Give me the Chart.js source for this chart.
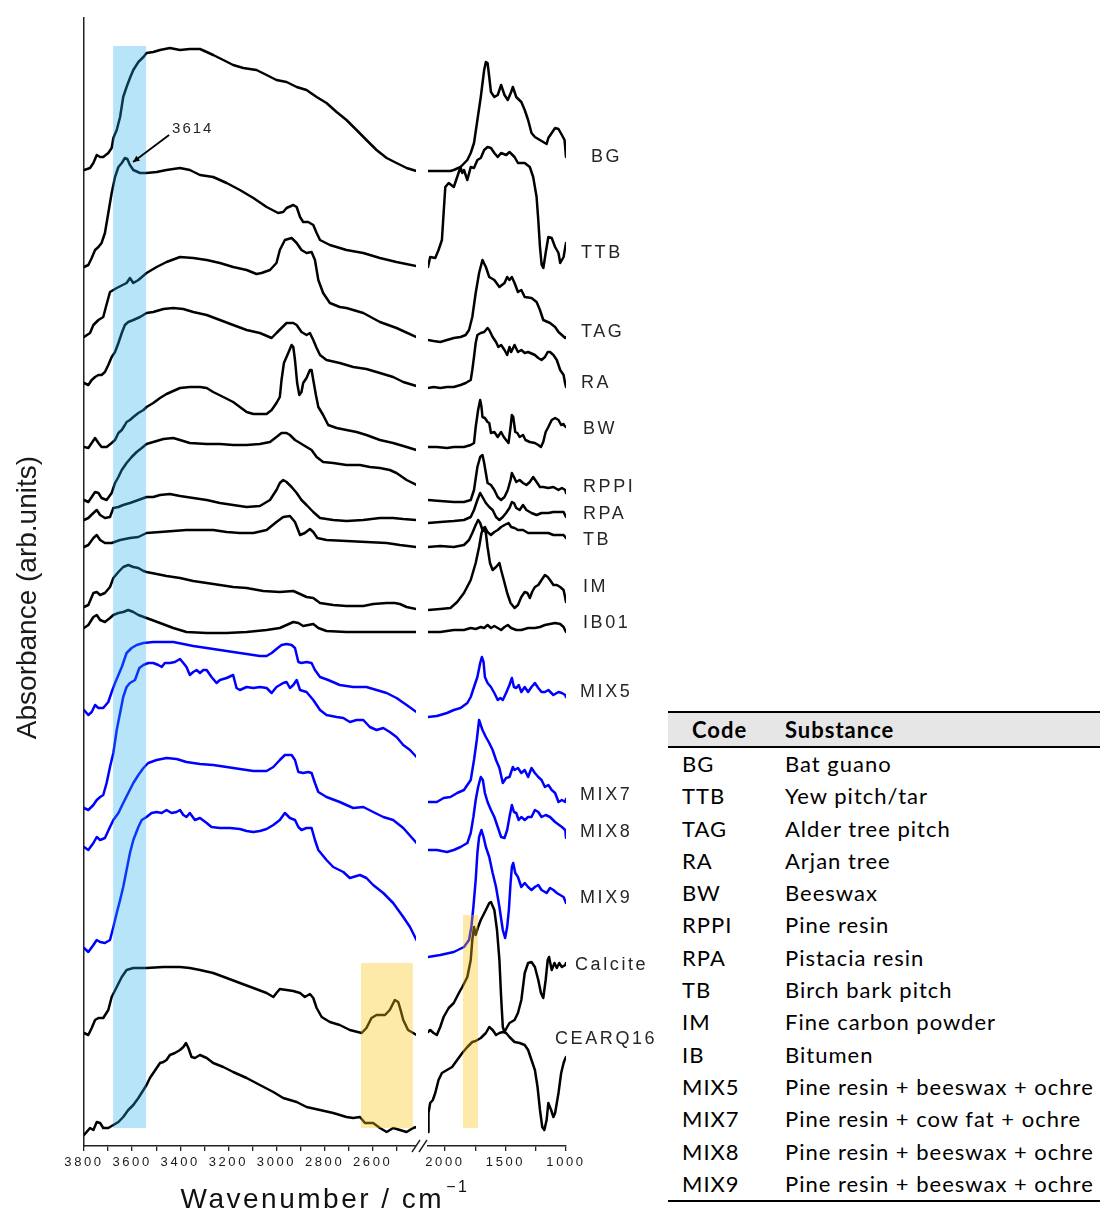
<!DOCTYPE html>
<html>
<head>
<meta charset="utf-8">
<title>FTIR spectra of reference substances and mixtures</title>
<script src="https://cdn.jsdelivr.net/npm/chart.js@4.4.1/dist/chart.umd.min.js"></script>
<style>
  html, body { margin: 0; padding: 0; background: #fff; }
  body { width: 1100px; height: 1211px; position: relative; overflow: hidden; }
  #plot { position: absolute; left: 0; top: 0; }
  table.key {
    position: absolute; left: 668px; top: 711px; width: 432px;
    border-collapse: separate; border-spacing: 0; table-layout: fixed;
    font-family: Lato, "Open Sans", sans-serif; font-size: 22px; color: #000;
    letter-spacing: 1px;
    border-top: 2px solid #000; border-bottom: 2px solid #000;
  }
  table.key th {
    background: #e6e6e6; height: 33px; padding: 0; text-align: left;
    font-weight: 700; border-bottom: 2px solid #000; line-height: 33px;
  }
  table.key th.c { padding-left: 24px; }
  table.key td { height: 32.3px; line-height: 32.3px; padding: 0; white-space: nowrap; }
  table.key td.c { padding-left: 14px; }
</style>
</head>
<body>
<canvas id="plot" width="660" height="1211"></canvas>
<table class="key">
  <colgroup><col style="width:117px"><col style="width:315px"></colgroup>
  <thead><tr><th class="c">Code</th><th>Substance</th></tr></thead>
  <tbody id="keyBody"></tbody>
</table>
<script>
// ---- spectra: [wavenumber (cm-1), absorbance (arb. units, offset-stacked)] ----
// high-wavenumber window (3800-2420 cm-1) and fingerprint window (2140-1000 cm-1)
const BG_L = [[3800,976],[3775,978],[3761,983],[3747,991],[3733,989],[3720,989],[3699,993],[3685,998],[3678,1008],[3664,1016],[3650,1029],[3637,1049],[3623,1059],[3609,1068],[3595,1076],[3574,1084],[3553,1089],[3540,1093],[3512,1094],[3484,1096],[3443,1098],[3401,1096],[3360,1097],[3318,1097],[3290,1094],[3263,1091],[3221,1086],[3180,1081],[3138,1078],[3083,1076],[3041,1071],[3000,1066],[2958,1064],[2916,1059],[2875,1056],[2833,1049],[2792,1043],[2750,1034],[2709,1026],[2667,1016],[2626,1006],[2584,996],[2542,988],[2501,983],[2459,978],[2418,975]];
const BG_R = [[2140,975],[2039,975],[1955,975],[1927,976],[1871,979],[1815,986],[1787,993],[1760,1003],[1732,1026],[1704,1049],[1676,1076],[1662,1084],[1648,1083],[1634,1069],[1620,1054],[1592,1049],[1564,1051],[1536,1061],[1508,1051],[1481,1046],[1453,1054],[1439,1059],[1411,1049],[1369,1044],[1341,1036],[1313,1026],[1285,1013],[1257,1009],[1202,1005],[1160,1002],[1146,1008],[1118,1013],[1090,1018],[1062,1017],[1034,1011],[1012,1006],[1000,989]];

const TTB_L = [[3800,879],[3782,881],[3768,888],[3754,896],[3740,899],[3727,903],[3713,913],[3699,933],[3685,953],[3671,969],[3657,979],[3643,983],[3630,988],[3620,987],[3609,981],[3595,976],[3567,973],[3540,973],[3498,974],[3457,976],[3401,978],[3360,976],[3318,971],[3263,969],[3207,963],[3152,956],[3096,948],[3041,939],[2993,933],[2972,934],[2958,938],[2930,941],[2916,939],[2902,929],[2889,924],[2868,924],[2847,921],[2833,913],[2819,906],[2778,901],[2709,896],[2639,893],[2570,888],[2501,884],[2418,880]];
const TTB_R = [[2140,879],[2122,889],[2080,888],[2053,896],[2025,906],[2011,933],[1997,959],[1969,963],[1927,959],[1899,969],[1871,979],[1857,973],[1843,976],[1815,966],[1787,979],[1760,978],[1732,986],[1704,988],[1676,996],[1648,999],[1620,998],[1592,993],[1564,989],[1536,993],[1494,991],[1467,994],[1425,989],[1397,983],[1341,983],[1299,979],[1271,969],[1243,949],[1229,926],[1215,899],[1201,881],[1187,878],[1168,893],[1146,909],[1118,908],[1090,899],[1062,893],[1048,883],[1020,889],[1000,903]];

const TAG_L = [[3800,809],[3775,813],[3761,821],[3740,826],[3720,829],[3709,839],[3692,854],[3664,858],[3623,863],[3609,868],[3595,863],[3574,866],[3540,873],[3498,879],[3457,884],[3401,889],[3346,888],[3290,886],[3235,883],[3180,879],[3124,876],[3083,872],[3062,873],[3027,876],[3000,883],[2986,896],[2965,906],[2937,908],[2916,903],[2896,896],[2875,893],[2854,894],[2840,886],[2826,866],[2806,853],[2778,843],[2737,839],[2709,838],[2639,833],[2570,824],[2501,818],[2418,809]];
const TAG_R = [[2140,806],[2094,805],[2039,804],[1983,806],[1927,808],[1871,809],[1829,811],[1801,816],[1774,829],[1746,853],[1718,873],[1690,886],[1662,879],[1634,869],[1592,866],[1550,859],[1508,863],[1486,869],[1467,866],[1447,869],[1425,863],[1397,854],[1369,856],[1341,849],[1285,848],[1243,844],[1215,836],[1188,826],[1132,823],[1090,819],[1062,814],[1034,811],[1006,808],[1000,809]];

const RA_L = [[3800,763],[3782,761],[3768,766],[3754,769],[3740,771],[3727,771],[3713,774],[3699,781],[3685,789],[3671,794],[3657,803],[3643,813],[3630,821],[3616,824],[3595,826],[3567,829],[3540,833],[3512,834],[3470,837],[3429,838],[3387,837],[3346,834],[3290,831],[3235,826],[3180,821],[3124,816],[3069,813],[3020,808],[3000,813],[2979,818],[2958,823],[2930,823],[2916,821],[2896,814],[2875,811],[2861,813],[2847,806],[2833,798],[2819,791],[2792,786],[2737,783],[2681,779],[2626,777],[2570,773],[2515,769],[2473,764],[2418,760]];
const RA_R = [[2140,758],[2094,759],[2039,758],[1983,759],[1927,759],[1871,761],[1829,763],[1787,766],[1774,776],[1760,789],[1746,803],[1732,811],[1704,813],[1676,814],[1648,818],[1634,816],[1606,809],[1578,804],[1559,799],[1536,801],[1508,796],[1486,791],[1467,799],[1453,794],[1425,801],[1397,794],[1369,796],[1341,793],[1313,794],[1257,791],[1229,788],[1202,786],[1174,789],[1151,794],[1132,794],[1104,791],[1076,786],[1048,776],[1020,771],[1008,763],[1000,759]];

const BW_L = [[3800,699],[3782,698],[3768,703],[3754,708],[3740,703],[3727,699],[3706,699],[3685,703],[3671,706],[3657,713],[3643,716],[3630,721],[3623,724],[3609,726],[3595,729],[3574,733],[3553,736],[3540,739],[3512,743],[3484,748],[3457,752],[3429,755],[3401,758],[3360,759],[3318,759],[3290,758],[3263,754],[3221,749],[3180,744],[3152,739],[3124,734],[3096,732],[3041,732],[3020,736],[3000,743],[2986,749],[2979,766],[2969,783],[2951,793],[2937,801],[2930,799],[2923,786],[2914,763],[2905,751],[2896,754],[2889,763],[2875,768],[2861,776],[2854,776],[2847,766],[2836,751],[2826,739],[2806,731],[2785,721],[2750,718],[2709,716],[2667,714],[2626,711],[2570,706],[2515,703],[2459,699],[2418,696]];
const BW_R = [[2140,699],[2067,699],[1983,698],[1927,699],[1843,699],[1787,701],[1760,703],[1746,719],[1726,736],[1709,746],[1698,739],[1690,729],[1670,728],[1648,724],[1634,723],[1620,713],[1592,714],[1564,709],[1536,714],[1514,709],[1495,706],[1475,703],[1458,719],[1447,731],[1436,729],[1419,714],[1402,713],[1383,709],[1355,711],[1335,706],[1299,704],[1257,703],[1229,701],[1207,699],[1188,704],[1168,714],[1146,719],[1118,726],[1090,728],[1062,726],[1040,721],[1020,722],[1011,720],[1000,719]];

const RPPI_L = [[3800,646],[3782,644],[3768,649],[3754,654],[3740,653],[3727,648],[3706,646],[3685,653],[3671,663],[3657,669],[3643,676],[3623,683],[3602,689],[3581,694],[3560,698],[3540,702],[3512,704],[3470,707],[3429,708],[3401,706],[3360,703],[3290,702],[3235,702],[3180,701],[3124,701],[3069,702],[3027,704],[3000,709],[2979,713],[2958,713],[2944,711],[2923,706],[2902,703],[2875,699],[2854,696],[2833,689],[2806,684],[2764,683],[2709,681],[2653,681],[2612,679],[2570,678],[2529,676],[2501,673],[2459,666],[2418,661]];
const RPPI_R = [[2140,646],[2039,645],[1927,644],[1843,644],[1787,646],[1760,656],[1732,679],[1709,689],[1690,691],[1676,683],[1662,673],[1648,663],[1620,661],[1592,656],[1564,649],[1536,646],[1508,649],[1481,656],[1458,666],[1447,673],[1430,669],[1411,664],[1383,666],[1355,663],[1327,661],[1299,664],[1271,669],[1243,664],[1215,659],[1188,659],[1146,658],[1104,659],[1062,656],[1034,658],[1006,656],[1000,653]];

const RPA_L = [[3800,626],[3782,628],[3761,633],[3747,636],[3733,631],[3713,628],[3692,629],[3678,638],[3657,639],[3637,641],[3609,643],[3574,646],[3540,649],[3512,649],[3484,651],[3443,652],[3401,650],[3346,648],[3290,646],[3235,643],[3180,641],[3124,639],[3069,640],[3027,646],[3000,656],[2986,663],[2972,666],[2958,664],[2937,659],[2916,653],[2896,646],[2875,641],[2847,634],[2819,628],[2764,626],[2709,625],[2639,626],[2570,628],[2515,628],[2473,627],[2418,626]];
const RPA_R = [[2140,623],[2039,624],[1927,625],[1843,626],[1787,629],[1760,636],[1732,646],[1709,653],[1690,649],[1662,643],[1634,639],[1606,636],[1578,629],[1550,626],[1522,629],[1495,633],[1467,638],[1447,644],[1430,643],[1411,638],[1383,636],[1355,641],[1327,636],[1285,633],[1243,631],[1202,633],[1146,633],[1104,634],[1062,634],[1020,634],[1000,629]];

const TB_L = [[3800,599],[3782,601],[3761,608],[3747,611],[3733,606],[3713,603],[3685,603],[3650,606],[3609,608],[3574,609],[3540,613],[3484,614],[3429,615],[3374,616],[3318,616],[3263,616],[3207,614],[3152,613],[3096,613],[3041,616],[3000,624],[2972,629],[2944,630],[2923,624],[2902,611],[2882,613],[2861,617],[2847,614],[2830,608],[2792,606],[2709,605],[2626,604],[2542,603],[2487,601],[2418,599]];
const TB_R = [[2140,599],[2039,600],[1927,599],[1843,601],[1801,606],[1774,613],[1746,621],[1726,626],[1709,623],[1690,616],[1670,619],[1648,614],[1620,611],[1592,614],[1564,616],[1536,619],[1508,621],[1475,623],[1453,619],[1425,618],[1397,616],[1355,616],[1313,613],[1257,613],[1202,613],[1146,613],[1104,611],[1062,611],[1020,611],[1000,608]];

const IM_L = [[3800,539],[3782,541],[3761,553],[3747,554],[3733,551],[3713,553],[3692,559],[3678,568],[3657,574],[3637,579],[3616,581],[3595,579],[3574,578],[3553,575],[3540,574],[3498,572],[3457,570],[3401,568],[3346,565],[3290,563],[3235,561],[3180,559],[3124,558],[3055,555],[2986,554],[2930,555],[2902,552],[2875,549],[2847,548],[2819,543],[2764,541],[2709,540],[2639,540],[2598,542],[2542,543],[2508,543],[2487,542],[2459,539],[2418,537]];
const IM_R = [[2140,536],[2039,537],[1955,538],[1899,544],[1843,553],[1787,566],[1746,583],[1718,599],[1698,613],[1681,618],[1662,613],[1648,599],[1628,583],[1606,576],[1578,579],[1550,583],[1536,576],[1514,566],[1486,553],[1458,543],[1425,538],[1397,541],[1369,549],[1341,554],[1319,553],[1299,548],[1280,554],[1257,559],[1229,561],[1202,566],[1174,571],[1151,569],[1132,566],[1104,561],[1076,561],[1048,559],[1020,556],[1011,551],[1000,544]];

const IB_L = [[3800,518],[3782,521],[3761,529],[3747,531],[3733,526],[3713,524],[3692,528],[3678,531],[3657,533],[3637,534],[3616,536],[3595,534],[3574,531],[3540,528],[3484,523],[3429,518],[3374,514],[3290,513],[3207,513],[3124,514],[3041,516],[2986,518],[2958,521],[2930,524],[2909,523],[2889,520],[2868,521],[2847,522],[2826,518],[2792,515],[2709,514],[2570,514],[2418,514]];
const IB_R = [[2140,514],[2039,514],[1927,516],[1843,516],[1787,518],[1746,517],[1704,519],[1676,518],[1648,521],[1620,518],[1592,520],[1564,518],[1536,516],[1508,519],[1481,521],[1453,518],[1411,516],[1369,516],[1313,518],[1257,518],[1215,519],[1174,521],[1132,522],[1090,523],[1048,522],[1020,519],[1000,514]];

const MIX5_L = [[3800,436],[3782,431],[3768,434],[3754,441],[3740,438],[3720,438],[3699,444],[3685,454],[3671,463],[3657,471],[3643,479],[3623,493],[3602,498],[3581,501],[3553,503],[3512,504],[3470,504],[3429,504],[3387,502],[3346,500],[3290,498],[3235,496],[3180,494],[3124,492],[3069,490],[3041,490],[3020,493],[3000,497],[2979,501],[2958,502],[2937,501],[2923,498],[2909,484],[2896,483],[2875,484],[2854,483],[2840,476],[2819,469],[2785,466],[2737,461],[2681,459],[2626,459],[2584,456],[2542,453],[2501,448],[2459,441],[2418,434]];
const MIX5_R = [[2140,429],[2067,430],[1983,433],[1927,436],[1871,438],[1815,443],[1787,449],[1760,459],[1732,469],[1709,483],[1695,489],[1681,484],[1670,469],[1648,463],[1620,459],[1592,453],[1564,446],[1542,448],[1522,446],[1495,453],[1467,461],[1447,468],[1430,459],[1411,458],[1391,461],[1369,454],[1341,459],[1313,454],[1285,459],[1257,463],[1229,458],[1202,454],[1174,454],[1146,456],[1104,451],[1062,454],[1034,453],[1006,451],[1000,449]];

const MIX7_L = [[3800,338],[3782,336],[3761,341],[3747,346],[3733,349],[3720,351],[3706,363],[3692,379],[3678,393],[3664,416],[3650,433],[3637,449],[3623,459],[3609,463],[3588,466],[3570,478],[3553,481],[3533,483],[3512,483],[3491,481],[3477,479],[3464,483],[3443,483],[3422,484],[3401,487],[3387,483],[3374,479],[3360,471],[3346,474],[3332,476],[3318,473],[3304,476],[3290,476],[3270,469],[3249,463],[3235,466],[3207,468],[3180,471],[3166,458],[3152,456],[3124,459],[3096,458],[3069,459],[3041,458],[3020,453],[3000,459],[2972,463],[2958,464],[2944,458],[2930,461],[2916,466],[2902,456],[2875,454],[2847,446],[2819,436],[2792,431],[2750,429],[2722,428],[2695,424],[2667,426],[2639,426],[2612,419],[2584,416],[2556,418],[2529,414],[2501,409],[2473,401],[2445,396],[2418,389]];
const MIX7_R = [[2140,344],[2067,344],[2011,348],[1955,349],[1899,353],[1843,356],[1787,366],[1760,386],[1737,406],[1718,426],[1704,421],[1690,416],[1662,409],[1634,403],[1606,396],[1578,386],[1550,378],[1522,363],[1495,368],[1467,369],[1439,379],[1425,376],[1397,378],[1369,373],[1341,376],[1313,369],[1285,378],[1257,373],[1229,369],[1202,366],[1174,359],[1146,361],[1118,356],[1090,353],[1062,344],[1034,346],[1006,344],[1000,347]];

const MIX8_L = [[3800,299],[3782,296],[3761,303],[3747,309],[3733,306],[3713,308],[3692,319],[3678,326],[3657,333],[3637,343],[3616,353],[3595,363],[3574,371],[3553,378],[3533,383],[3498,386],[3457,388],[3415,387],[3374,384],[3318,382],[3263,381],[3207,379],[3152,377],[3096,375],[3041,375],[3013,379],[2986,386],[2965,391],[2937,391],[2923,386],[2909,374],[2889,373],[2868,374],[2854,373],[2840,363],[2826,354],[2792,349],[2737,344],[2681,338],[2639,339],[2598,334],[2556,329],[2515,326],[2473,318],[2418,303]];
const MIX8_R = [[2140,296],[2067,296],[1983,294],[1927,296],[1871,299],[1815,303],[1787,313],[1765,329],[1746,346],[1726,359],[1704,369],[1687,366],[1670,353],[1648,344],[1620,336],[1592,329],[1564,319],[1536,309],[1508,308],[1486,316],[1467,329],[1447,341],[1430,334],[1411,333],[1391,326],[1369,329],[1341,326],[1313,329],[1285,329],[1257,336],[1229,334],[1202,329],[1168,331],[1132,329],[1090,324],[1034,319],[1006,316],[1000,308]];

const MIX9_L = [[3800,198],[3782,194],[3761,201],[3747,206],[3733,204],[3713,203],[3692,206],[3678,219],[3664,233],[3650,246],[3637,259],[3623,276],[3609,293],[3595,306],[3574,319],[3560,326],[3540,329],[3519,333],[3498,334],[3477,333],[3457,336],[3436,333],[3415,334],[3401,336],[3387,331],[3374,329],[3360,333],[3339,326],[3318,328],[3290,323],[3270,319],[3235,318],[3193,318],[3152,317],[3124,315],[3096,314],[3069,315],[3041,317],[3013,321],[2986,326],[2965,333],[2944,328],[2923,326],[2909,319],[2896,316],[2875,318],[2854,318],[2840,306],[2826,296],[2792,286],[2764,279],[2722,274],[2695,268],[2653,271],[2626,268],[2598,261],[2556,253],[2515,243],[2473,229],[2445,219],[2418,206]];
const MIX9_R = [[2140,189],[2039,191],[1927,194],[1843,199],[1801,206],[1782,219],[1765,239],[1746,266],[1732,293],[1718,309],[1698,316],[1681,309],[1662,299],[1634,289],[1606,273],[1578,259],[1550,239],[1522,216],[1503,208],[1486,219],[1472,236],[1458,263],[1447,279],[1436,283],[1419,273],[1397,269],[1369,259],[1341,263],[1313,259],[1285,256],[1257,259],[1229,261],[1202,256],[1160,253],[1132,258],[1104,256],[1076,253],[1048,251],[1020,249],[1000,243]];

const CAL_L = [[3800,113],[3782,111],[3768,118],[3754,126],[3740,128],[3720,128],[3699,136],[3685,149],[3664,159],[3643,169],[3623,176],[3595,178],[3540,178],[3470,179],[3401,179],[3360,178],[3318,176],[3263,173],[3207,168],[3152,163],[3096,158],[3041,153],[3013,149],[3000,153],[2986,157],[2958,156],[2930,155],[2902,153],[2882,149],[2861,152],[2847,148],[2833,138],[2812,129],[2778,124],[2737,121],[2695,116],[2646,113],[2626,118],[2605,128],[2584,131],[2549,131],[2529,136],[2508,146],[2494,144],[2484,136],[2473,126],[2453,116],[2418,111]];
const CAL_R = [[2140,114],[2122,116],[2094,113],[2067,111],[2039,119],[2011,129],[1969,138],[1927,143],[1885,153],[1857,159],[1815,169],[1787,186],[1774,206],[1760,219],[1746,211],[1726,219],[1704,226],[1662,236],[1634,243],[1620,244],[1592,236],[1570,216],[1550,186],[1536,149],[1522,119],[1508,114],[1486,119],[1467,123],[1425,126],[1397,133],[1369,146],[1341,173],[1313,183],[1285,184],[1257,179],[1229,166],[1207,153],[1188,148],[1168,166],[1151,186],[1140,189],[1118,176],[1095,183],[1076,178],[1056,183],[1034,179],[1006,181],[1000,183]];

const CEA_L = [[3800,11],[3789,14],[3775,18],[3761,16],[3747,24],[3733,23],[3720,18],[3699,18],[3678,21],[3657,24],[3637,29],[3616,36],[3595,41],[3574,48],[3553,56],[3540,61],[3526,68],[3512,73],[3498,78],[3484,83],[3470,84],[3457,86],[3443,91],[3422,93],[3401,96],[3387,99],[3376,103],[3366,98],[3353,89],[3339,88],[3318,91],[3290,88],[3263,83],[3221,79],[3180,74],[3124,68],[3069,61],[3013,54],[2972,48],[2916,44],[2875,39],[2819,36],[2764,33],[2709,29],[2681,28],[2653,29],[2632,23],[2598,23],[2570,18],[2542,14],[2515,18],[2487,16],[2459,14],[2432,18],[2418,19]];
const CEA_R = [[2140,14],[2136,33],[2122,43],[2100,46],[2080,53],[2053,66],[2025,73],[1983,76],[1941,79],[1899,86],[1857,93],[1815,99],[1774,104],[1746,105],[1704,108],[1662,113],[1634,119],[1606,116],[1578,111],[1550,113],[1522,114],[1495,113],[1467,109],[1425,104],[1383,103],[1341,101],[1313,96],[1285,86],[1257,76],[1235,59],[1215,36],[1196,19],[1179,16],[1160,26],[1146,43],[1123,36],[1104,29],[1090,33],[1062,53],[1040,73],[1020,83],[1011,86],[1000,89]];

// curve names, top to bottom
const seriesCodes = ['BG','TTB','TAG','RA','BW','RPPI','RPA','TB','IM','IB01','MIX5','MIX7','MIX8','MIX9','Calcite','CEARQ16'];
const seriesLeft  = [BG_L, TTB_L, TAG_L, RA_L, BW_L, RPPI_L, RPA_L, TB_L, IM_L, IB_L, MIX5_L, MIX7_L, MIX8_L, MIX9_L, CAL_L, CEA_L];
const seriesRight = [BG_R, TTB_R, TAG_R, RA_R, BW_R, RPPI_R, RPA_R, TB_R, IM_R, IB_R, MIX5_R, MIX7_R, MIX8_R, MIX9_R, CAL_R, CEA_R];

// axis ticks (cm-1)
const leftTicks  = [3800,3700,3600,3500,3400,3300,3200,3100,3000,2900,2800,2700,2600,2500];
const leftTickLabels  = ['3800','','3600','','3400','','3200','','3000','','2800','','2600',''];
const rightTicks = [2000,1750,1500,1250,1000];
const rightTickLabels = ['2000','','1500','','1000'];

// shaded diagnostic regions: [axis, from cm-1, to cm-1, absorbance top, absorbance bottom]
const bandRanges = [
  ['xL', 3679, 3542, 1100, 18],
  ['xL', 2649, 2433, 183, 18],
  ['xR', 1851, 1727, 231, 18]
];
// annotated band position
const markedPeak = { label: '3614', x: 3596, y: 984 };

// key table
const tableCodes = ['BG','TTB','TAG','RA','BW','RPPI','RPA','TB','IM','IB','MIX5','MIX7','MIX8','MIX9'];
const tableSubstances = ['Bat guano','Yew pitch/tar','Alder tree pitch','Arjan tree','Beeswax','Pine resin','Pistacia resin','Birch bark pitch','Fine carbon powder','Bitumen','Pine resin + beeswax + ochre','Pine resin + cow fat + ochre','Pine resin + beeswax + ochre','Pine resin + beeswax + ochre'];

// ---- key table ----
const tbody = document.getElementById('keyBody');
tableCodes.forEach((c, i) => {
  const tr = document.createElement('tr');
  const a = document.createElement('td'); a.className = 'c'; a.textContent = c;
  const b = document.createElement('td'); b.textContent = tableSubstances[i];
  tr.appendChild(a); tr.appendChild(b); tbody.appendChild(tr);
});

// ---- styling ----
const FONT = '"Liberation Sans", Arial, Helvetica, sans-serif';
const BLACK = '#000000', BLUE = '#0000ff';
const bandColors = ['rgba(31,172,234,0.32)', 'rgba(250,194,14,0.36)', 'rgba(250,194,14,0.36)'];
// curve name placement: horizontal offset from the plot's right edge, vertical position in absorbance units
const labelPlacement = [
  [25,989],[15,893],[15,814],[15,763],[17,717],[17,659],[17,632],[17,606],
  [17,559],[17,523],[14,454],[14,351],[14,314],[14,248],[9,181],[-11,107]
];

const datasets = [];
seriesCodes.forEach((code, i) => {
  const color = code.startsWith('MIX') ? BLUE : BLACK;
  const common = { borderColor: color, borderWidth: 2.5, pointRadius: 0, fill: false, tension: 0,
                   borderJoinStyle: 'round', borderCapStyle: 'round', yAxisID: 'y' };
  datasets.push(Object.assign({ label: code + ' (O-H/C-H region)', data: seriesLeft[i], xAxisID: 'xL' }, common));
  datasets.push(Object.assign({ label: code + ' (fingerprint)', data: seriesRight[i], xAxisID: 'xR' }, common));
});

function fixedTicks(values) {
  return function (scale) { scale.ticks = values.map(v => ({ value: v })); };
}

const decor = {
  id: 'decor',
  beforeDraw(chart) { chart.ctx.letterSpacing = '0px'; },
  afterDatasetsDraw(chart) {
    const { ctx, scales } = chart;
    ctx.save();
    bandRanges.forEach((b, i) => {
      const xs = scales[b[0]];
      const x0 = xs.getPixelForValue(b[1]), x1 = xs.getPixelForValue(b[2]);
      const y0 = scales.y.getPixelForValue(b[3]), y1 = scales.y.getPixelForValue(b[4]);
      ctx.fillStyle = bandColors[i];
      ctx.fillRect(Math.min(x0, x1), y0, Math.abs(x1 - x0), y1 - y0);
    });
    ctx.restore();
    // wavenumber tick labels are drawn after this hook
    ctx.letterSpacing = '2.6px';
  },
  afterDraw(chart) {
    const { ctx, scales, chartArea } = chart;
    const xL = scales.xL, y = scales.y;
    ctx.save();
    // curve names
    ctx.letterSpacing = '2.6px';
    ctx.font = '18px ' + FONT;
    ctx.fillStyle = '#262626';
    ctx.textAlign = 'left';
    ctx.textBaseline = 'middle';
    seriesCodes.forEach((code, i) => {
      const p = labelPlacement[i];
      ctx.fillText(code, chartArea.right + p[0], y.getPixelForValue(p[1]));
    });

    // 3614 marker with leader arrow
    const ex = xL.getPixelForValue(markedPeak.x), ey = y.getPixelForValue(markedPeak.y);
    const sx = ex + 36, sy = ey - 27;
    ctx.strokeStyle = '#000'; ctx.fillStyle = '#000'; ctx.lineWidth = 1.8;
    ctx.beginPath(); ctx.moveTo(sx, sy); ctx.lineTo(ex, ey); ctx.stroke();
    const ang = Math.atan2(ey - sy, ex - sx);
    ctx.beginPath();
    ctx.moveTo(ex, ey);
    ctx.lineTo(ex - 7 * Math.cos(ang - 0.45), ey - 7 * Math.sin(ang - 0.45));
    ctx.lineTo(ex - 7 * Math.cos(ang + 0.45), ey - 7 * Math.sin(ang + 0.45));
    ctx.closePath(); ctx.fill();
    ctx.letterSpacing = '2px';
    ctx.font = '15px ' + FONT;
    ctx.fillStyle = '#262626';
    ctx.textBaseline = 'alphabetic';
    ctx.fillText(markedPeak.label, sx + 3, sy - 2);

    // axis break marks
    const xb = xL.right, yb = chartArea.bottom;
    ctx.strokeStyle = '#222'; ctx.lineWidth = 1.4;
    ctx.beginPath();
    ctx.moveTo(xb - 4, yb + 6); ctx.lineTo(xb + 4, yb - 6);
    ctx.moveTo(xb + 3, yb + 6); ctx.lineTo(xb + 11, yb - 6);
    ctx.stroke();

    // x axis title with superscript unit
    ctx.letterSpacing = '2.5px';
    ctx.fillStyle = '#111';
    const main = 'Wavenumber / cm', sup = '\u22121';
    ctx.font = '28px ' + FONT;
    const wMain = ctx.measureText(main).width;
    ctx.font = '16px ' + FONT;
    const wSup = ctx.measureText(sup).width;
    const cx = (chartArea.left + chartArea.right) / 2;
    const left = cx - (wMain + wSup + 2) / 2;
    ctx.textAlign = 'left';
    ctx.font = '28px ' + FONT;
    ctx.fillText(main, left, 1208);
    ctx.font = '16px ' + FONT;
    ctx.fillText(sup, left + wMain + 2, 1192);
    ctx.restore();
  }
};

const tickFont = { family: FONT, size: 13 };
const xCommon = {
  type: 'linear', position: 'bottom', stack: 'wn', reverse: true,
  grid: { display: true, drawOnChartArea: false, drawTicks: true, tickLength: 5, color: '#222', lineWidth: 1.3 },
  border: { display: true, color: '#222', width: 1.5 },
  ticks: { autoSkip: false, maxRotation: 0, minRotation: 0, padding: 4, color: '#1a1a1a', font: tickFont, z: 1 },
  afterFit(scale) { scale.height = 30; }
};

new Chart(document.getElementById('plot'), {
  type: 'line',
  data: { datasets },
  options: {
    responsive: false,
    animation: false,
    devicePixelRatio: 1,
    layout: { padding: { left: 0, top: 18, right: 94, bottom: 35 } },
    plugins: { legend: { display: false }, tooltip: { enabled: false } },
    scales: {
      xL: Object.assign({}, xCommon, {
        min: 2420, max: 3800, stackWeight: 332,
        afterBuildTicks: fixedTicks(leftTicks),
        ticks: Object.assign({}, xCommon.ticks, {
          callback: (v) => leftTickLabels[leftTicks.indexOf(v)] ?? ''
        })
      }),
      xGap: { type: 'linear', position: 'bottom', stack: 'wn', stackWeight: 12, display: false, min: 0, max: 1 },
      xR: Object.assign({}, xCommon, {
        min: 1000, max: 2140, stackWeight: 138,
        afterBuildTicks: fixedTicks(rightTicks),
        ticks: Object.assign({}, xCommon.ticks, {
          callback: (v) => rightTickLabels[rightTicks.indexOf(v)] ?? ''
        })
      }),
      y: {
        type: 'linear', position: 'left', min: 0, max: 1128,
        ticks: { display: false },
        grid: { display: false },
        border: { display: true, color: '#222', width: 1.5 },
        title: { display: true, text: 'Absorbance (arb.units)    ', color: '#1a1a1a',
                 font: { family: FONT, size: 28 }, padding: { top: 11, bottom: 0 } },
        afterFit(scale) { scale.width = 84; }
      }
    }
  },
  plugins: [decor]
});
</script>
</body>
</html>
